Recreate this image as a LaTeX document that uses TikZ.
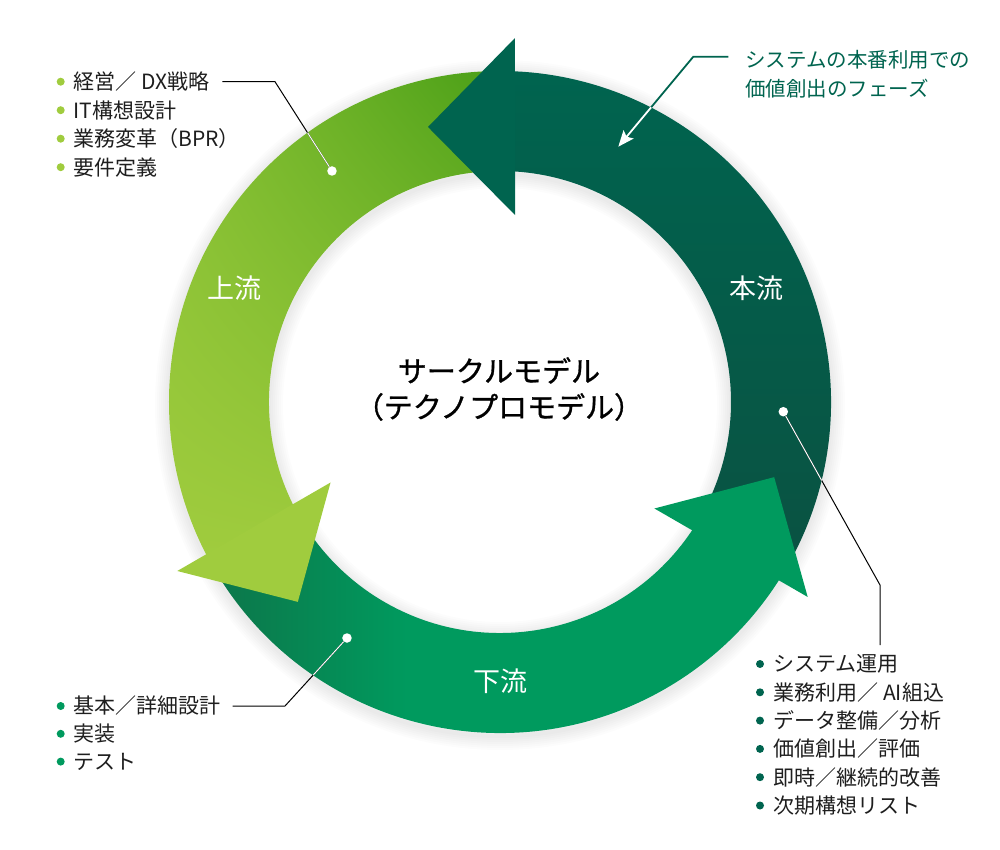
\documentclass[tikz,border=0pt]{standalone}
\usepackage{fontspec}
\setmainfont{Noto Sans CJK JP}
\newfontfamily\titlefont[FakeBold=1]{Noto Sans CJK JP}
\usetikzlibrary{arrows.meta,shadings}
\definecolor{mainflow}{HTML}{00644F}
\definecolor{mainflowdark}{HTML}{0A5242}
\definecolor{upflow}{HTML}{A0CC3E}
\definecolor{upflowmid}{HTML}{86C033}
\definecolor{upflowdark}{HTML}{4A9F17}
\definecolor{downflow}{HTML}{009A5E}
\definecolor{downflowdark}{HTML}{0B7A4C}
\definecolor{inktext}{HTML}{1E1E1E}
\pgfdeclarehorizontalshading{downshade}{100bp}{color(0bp)=(downflowdark); color(27bp)=(downflowdark); color(42bp)=(downflow); color(100bp)=(downflow)}

\begin{document}
\begin{tikzpicture}[x=1pt,y=1pt,>=Stealth,
  flowdot/.style={circle,fill=white,inner sep=0pt,minimum size=9.5pt},
  listitem/.style={anchor=west,inner sep=0pt,text=inktext,font=\fontsize{21}{24}\selectfont},
  flowname/.style={text=white,font=\fontsize{27}{30}\selectfont},
  leader/.style={line width=1pt}]
\useasboundingbox (-500,-448) rectangle (500,402);
\foreach \w in {4,8,...,28}
  \draw[black,opacity=.012,line width=\w] (0,-3) circle[radius=331] (0,-3) circle[radius=231];
\shade[top color=mainflow,middle color=mainflow,bottom color=mainflowdark]
  (-30:331) arc[start angle=-30,end angle=89,radius=331] -- (89:231) arc[start angle=89,end angle=-30,radius=231] -- cycle;
\shade[upper left=upflowmid,upper right=upflowdark,lower left=upflow,lower right=upflow]
  (90:331) arc[start angle=90,end angle=209,radius=331] -- (209:231) arc[start angle=209,end angle=90,radius=231] -- cycle;
\shade[shading=downshade]
  (210:331) arc[start angle=210,end angle=329,radius=331] -- (329:231) arc[start angle=329,end angle=210,radius=231] -- cycle;
\foreach \a/\c in {0/mainflow,120/upflow,240/downflow}
  \fill[\c] ({87.64+\a}:364.3) -- ({104.67+\a}:284.3) -- ({85.41+\a}:187.6) -- cycle;
\node[flowname] (upname) at (-265,114) {上流};
\node[flowname] (mainname) at (256,114) {本流};
\node[flowname] (downname) at (0,-279) {下流};
\node[align=center,text=black,font=\titlefont\fontsize{29}{36}\selectfont] (title) at (-1,13) {サークルモデル\\（テクノプロモデル）};
\foreach \txt [count=\i] in {経営／ DX戦略,IT構想設計,業務変革（BPR）,要件定義} {
  \fill[upflow] (-439.3,{320.3-28.5*(\i-1)}) circle[radius=4];
  \node[listitem] (up\i) at (-426.7,{320.3-28.5*(\i-1)}) {\txt};
}
\foreach \txt [count=\i] in {基本／詳細設計,実装,テスト} {
  \fill[downflow] (-439.3,{-304-27.8*(\i-1)}) circle[radius=4];
  \node[listitem] (down\i) at (-426.7,{-304-27.8*(\i-1)}) {\txt};
}
\foreach \txt [count=\i] in {システム運用,業務利用／ AI組込,データ整備／分析,価値創出／評価,即時／継続的改善,次期構想リスト} {
  \fill[mainflow] (260,{-262-28.3*(\i-1)}) circle[radius=4];
  \node[listitem] (main\i) at (273.3,{-262-28.3*(\i-1)}) {\txt};
}
\node[listitem,text=mainflow,font=\fontsize{20.5}{24}\selectfont] (phase1) at (245,342) {システムの本番利用での};
\node[listitem,text=mainflow,font=\fontsize{20.5}{24}\selectfont] (phase2) at (245,313) {価値創出のフェーズ};
\node[flowdot] (updot) at (-168,231) {};
\node[flowdot] (maindot) at (283.3,-9.7) {};
\node[flowdot] (downdot) at (-153,-236) {};
\coordinate (upbend) at (-225,319.3);
\coordinate (downbend) at (-215,-304.7);
\coordinate (mainbend) at (380,-183);
\coordinate (mainend) at (380,-243);
\coordinate (phasebend) at (193.3,345.3);
\coordinate (phasetip) at (118.3,255.3);
\draw[leader] ([xshift=13]up1.east) -- (up1.east -| upbend) -- (updot);
\draw[leader] ([xshift=12]down1.east) -- (down1.east -| downbend) -- (downdot);
\draw[leader] (maindot) -- (mainbend) -- (mainend);
\draw[mainflow,line width=1.8pt,-{Stealth[length=16pt,width=13pt,inset=3pt]}] ([shift={(-16.7,3.3)}]phase1.west) -- (phasebend) -- (phasetip);
\begin{scope}
  \clip (0,0) circle[radius=331];
  \draw[leader,white] (up1.east -| upbend) -- (updot);
  \draw[leader,white] (down1.east -| downbend) -- (downdot);
  \draw[leader,white] (maindot) -- (mainbend);
  \draw[white,line width=1.8pt,-{Stealth[length=16pt,width=13pt,inset=3pt]}] (phasebend) -- (phasetip);
\end{scope}
\end{tikzpicture}
\end{document}
